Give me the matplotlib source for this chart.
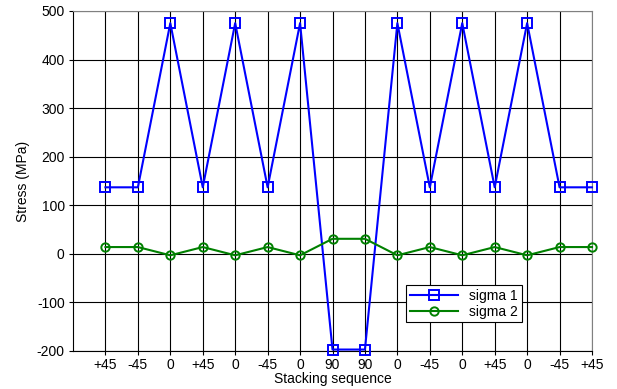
import numpy as np
import matplotlib.pyplot as plt

plt.rcParams['font.family'] = ['Liberation Sans', 'DejaVu Sans']
plt.rcParams['axes.unicode_minus'] = False

# ply positions and their stacking angles
ply = np.arange(1, 17)
ply_labels = ['+45', '-45', '0', '+45', '0', '-45', '0', '90',
              '90', '0', '-45', '0', '+45', '0', '-45', '+45']

# stresses per ply (MPa)
sigma1 = [137, 137, 475, 137, 475, 137, 475, -197,
          -197, 475, 137, 475, 137, 475, 137, 137]
sigma2 = [14, 14, -3, 14, -3, 14, -3, 31,
          31, -3, 14, -3, 14, -3, 14, 14]

fig = plt.figure(figsize=(6.17, 3.89), dpi=100)
ax = fig.add_axes([73 / 617, 1 - 351 / 389, 519 / 617, 340 / 389])

ax.plot(ply, sigma1, color='blue', lw=1.5, marker='s', ms=7,
        mfc='none', mew=1.4, label='sigma 1', clip_on=False, zorder=3)
ax.plot(ply, sigma2, color='green', lw=1.5, marker='o', ms=6,
        mfc='none', mew=1.4, label='sigma 2', clip_on=False, zorder=3)

ax.set_xlim(0, 16)
ax.set_ylim(-200, 500)
ax.set_xticks(ply)
ax.set_xticklabels(ply_labels)
ax.set_yticks(np.arange(-200, 501, 100))
ax.tick_params(labelsize=10, length=3, width=0.8, pad=3, colors='black')
ax.tick_params(axis='x', pad=2)
ax.grid(True, color='black', lw=0.8)
ax.set_axisbelow(True)
for side in ['left', 'bottom']:
    ax.spines[side].set_linewidth(0.8)
for side in ['top', 'right']:
    ax.spines[side].set_color('#808080')
    ax.spines[side].set_linewidth(0.8)

ax.set_xlabel('Stacking sequence', fontsize=10, labelpad=0)
ax.set_ylabel('Stress (MPa)', fontsize=10, labelpad=5)

leg = ax.legend(loc='upper left', bbox_to_anchor=(0.642, 0.193),
                fontsize=10, fancybox=False, framealpha=1,
                edgecolor='black', borderaxespad=0, handlelength=3.5,
                borderpad=0.25, labelspacing=0.15)
leg.get_frame().set_linewidth(0.8)

plt.savefig('out.png', dpi=100)
